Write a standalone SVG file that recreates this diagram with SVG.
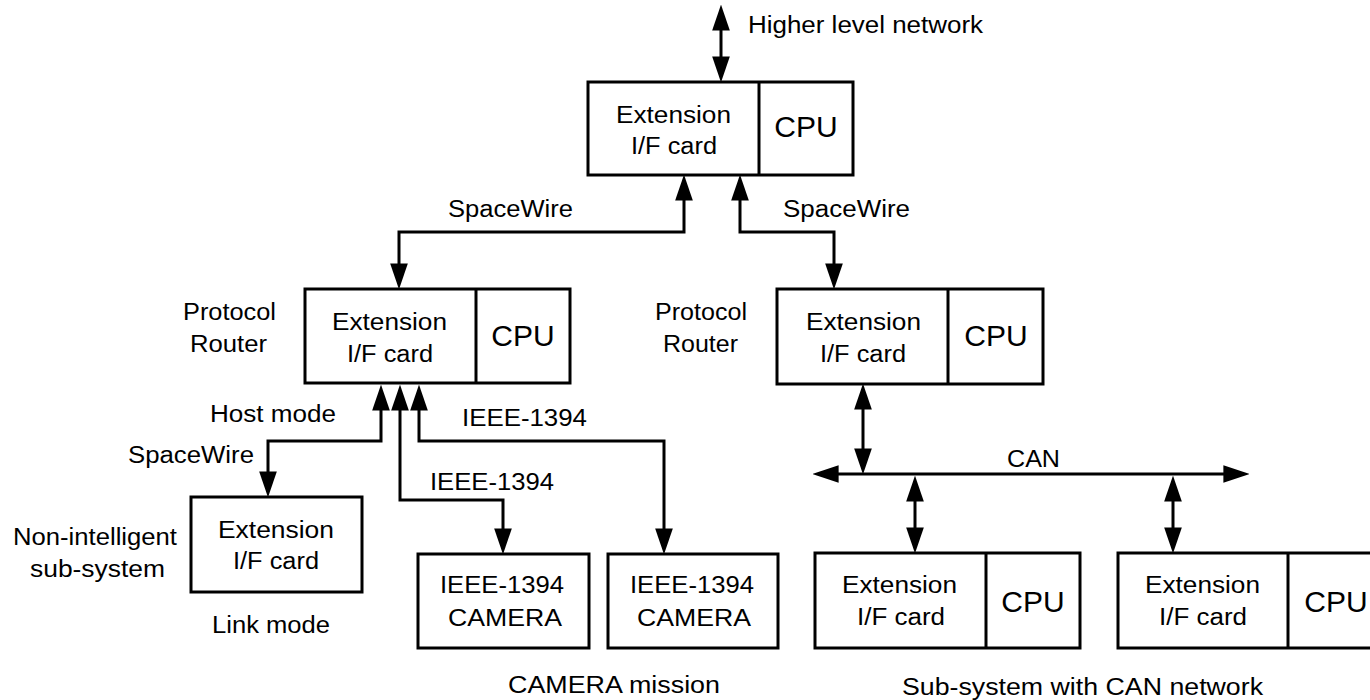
<svg xmlns="http://www.w3.org/2000/svg" width="1370" height="700" viewBox="0 0 1370 700">
<style>
.box{fill:#fff;stroke:#000;stroke-width:3}
.div{stroke:#000;stroke-width:3}
.t{font-family:"Liberation Sans",Arial,sans-serif;font-size:23px;fill:#000}
.cpu{font-family:"Liberation Sans",Arial,sans-serif;font-size:30px;fill:#000;text-anchor:middle}
.c{fill:none;stroke:#000;stroke-width:3;marker-start:url(#ah);marker-end:url(#ah)}
</style>
<defs>
<marker id="ah" markerUnits="userSpaceOnUse" markerWidth="26" markerHeight="18" refX="15" refY="8.5" orient="auto-start-reverse" viewBox="0 0 25 17">
<path d="M0,0 L25,8.5 L0,17 z" fill="#000"/>
</marker>
</defs>
<rect width="1370" height="700" fill="#fff"/>
<g id="connectors">
<path class="c" d="M721,15 V72"/>
<path class="c" d="M684,185 V232 H399 V279"/>
<path class="c" d="M740,185 V232 H834 V279"/>
<path class="c" d="M863,394 V464"/>
<path class="c" d="M823,474 H1239"/>
<path class="c" d="M915,486 V543"/>
<path class="c" d="M1173,486 V543"/>
<path class="c" d="M381,395 V441 H268 V487"/>
<path class="c" d="M400,395 V500 H503 V544"/>
<path class="c" d="M419,395 V441 H664 V544"/>
</g>
<g id="labels">
<text class="t" x="748" y="33" textLength="235" lengthAdjust="spacingAndGlyphs">Higher level network</text>
<text class="t" x="448" y="217" textLength="125" lengthAdjust="spacingAndGlyphs">SpaceWire</text>
<text class="t" x="783" y="217" textLength="127" lengthAdjust="spacingAndGlyphs">SpaceWire</text>
<text class="t" x="183" y="320" textLength="93" lengthAdjust="spacingAndGlyphs">Protocol</text>
<text class="t" x="190" y="352" textLength="77" lengthAdjust="spacingAndGlyphs">Router</text>
<text class="t" x="655" y="320" textLength="92" lengthAdjust="spacingAndGlyphs">Protocol</text>
<text class="t" x="663" y="352" textLength="75" lengthAdjust="spacingAndGlyphs">Router</text>
<text class="t" x="210" y="422" textLength="126" lengthAdjust="spacingAndGlyphs">Host mode</text>
<text class="t" x="462" y="426" textLength="125" lengthAdjust="spacingAndGlyphs">IEEE-1394</text>
<text class="t" x="430" y="490" textLength="124" lengthAdjust="spacingAndGlyphs">IEEE-1394</text>
<text class="t" x="128" y="463" textLength="126" lengthAdjust="spacingAndGlyphs">SpaceWire</text>
<text class="t" x="13" y="545" textLength="164" lengthAdjust="spacingAndGlyphs">Non-intelligent</text>
<text class="t" x="30" y="577" textLength="135" lengthAdjust="spacingAndGlyphs">sub-system</text>
<text class="t" x="212" y="633" textLength="118" lengthAdjust="spacingAndGlyphs">Link mode</text>
<text class="t" x="508" y="693" textLength="212" lengthAdjust="spacingAndGlyphs">CAMERA mission</text>
<text class="t" x="1007" y="467" textLength="53" lengthAdjust="spacingAndGlyphs">CAN</text>
<text class="t" x="902" y="695" textLength="361" lengthAdjust="spacingAndGlyphs">Sub-system with CAN network</text>
</g>
<g id="top-node">
<rect class="box" x="588" y="82" width="265" height="93"/>
<line class="div" x1="759" y1="82" x2="759" y2="175"/>
<text class="t" x="616" y="123" textLength="115" lengthAdjust="spacingAndGlyphs">Extension</text>
<text class="t" x="631" y="154" textLength="86" lengthAdjust="spacingAndGlyphs">I/F card</text>
<text class="cpu" x="806" y="137">CPU</text>
</g>
<g id="router-left">
<rect class="box" x="305" y="289" width="265" height="94"/>
<line class="div" x1="476" y1="289" x2="476" y2="383"/>
<text class="t" x="332" y="330" textLength="115" lengthAdjust="spacingAndGlyphs">Extension</text>
<text class="t" x="347" y="362" textLength="86" lengthAdjust="spacingAndGlyphs">I/F card</text>
<text class="cpu" x="523" y="346">CPU</text>
</g>
<g id="router-right">
<rect class="box" x="777" y="289" width="266" height="95"/>
<line class="div" x1="948" y1="289" x2="948" y2="384"/>
<text class="t" x="806" y="330" textLength="115" lengthAdjust="spacingAndGlyphs">Extension</text>
<text class="t" x="820" y="362" textLength="86" lengthAdjust="spacingAndGlyphs">I/F card</text>
<text class="cpu" x="996" y="346">CPU</text>
</g>
<g id="non-intelligent">
<rect class="box" x="191" y="497" width="171" height="95"/>
<text class="t" x="218" y="538" textLength="116" lengthAdjust="spacingAndGlyphs">Extension</text>
<text class="t" x="233" y="569" textLength="86" lengthAdjust="spacingAndGlyphs">I/F card</text>
</g>
<g id="camera-1">
<rect class="box" x="418" y="554" width="171" height="94"/>
<text class="t" x="440" y="593" textLength="124" lengthAdjust="spacingAndGlyphs">IEEE-1394</text>
<text class="t" x="448" y="626" textLength="114" lengthAdjust="spacingAndGlyphs">CAMERA</text>
</g>
<g id="camera-2">
<rect class="box" x="608" y="554" width="170" height="94"/>
<text class="t" x="630" y="593" textLength="124" lengthAdjust="spacingAndGlyphs">IEEE-1394</text>
<text class="t" x="637" y="626" textLength="114" lengthAdjust="spacingAndGlyphs">CAMERA</text>
</g>
<g id="can-node-1">
<rect class="box" x="815" y="553" width="265" height="95"/>
<line class="div" x1="986" y1="553" x2="986" y2="648"/>
<text class="t" x="842" y="593" textLength="115" lengthAdjust="spacingAndGlyphs">Extension</text>
<text class="t" x="857" y="625" textLength="88" lengthAdjust="spacingAndGlyphs">I/F card</text>
<text class="cpu" x="1033" y="612">CPU</text>
</g>
<g id="can-node-2">
<rect class="box" x="1118" y="553" width="265" height="95"/>
<line class="div" x1="1288" y1="553" x2="1288" y2="648"/>
<text class="t" x="1145" y="593" textLength="115" lengthAdjust="spacingAndGlyphs">Extension</text>
<text class="t" x="1159" y="625" textLength="88" lengthAdjust="spacingAndGlyphs">I/F card</text>
<text class="cpu" x="1336" y="612">CPU</text>
</g>
</svg>
